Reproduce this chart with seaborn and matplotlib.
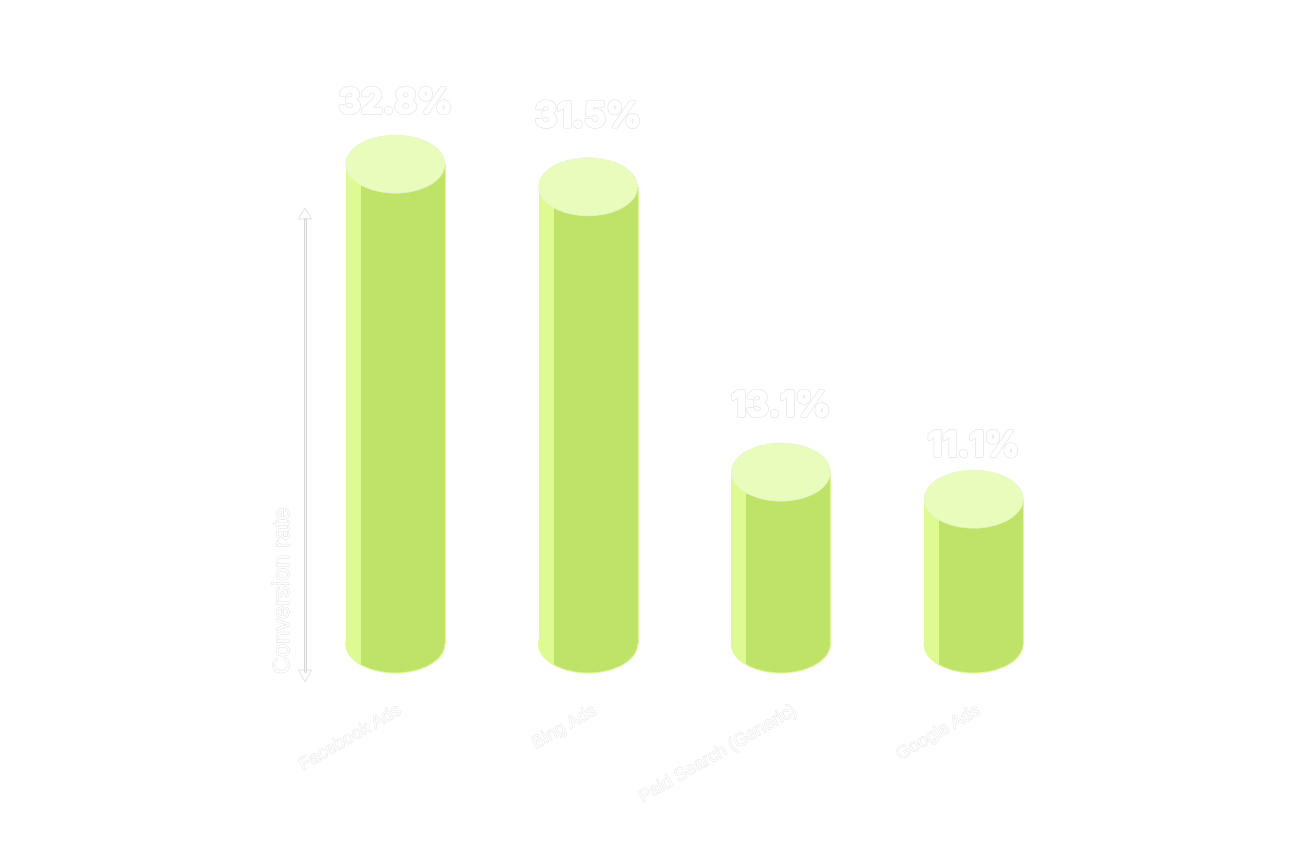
import matplotlib
matplotlib.use("Agg")
import matplotlib.pyplot as plt
import matplotlib.patheffects as pe
from matplotlib.patches import Ellipse, Rectangle
from matplotlib.transforms import ScaledTranslation
import seaborn as sns
import pandas as pd

channels = ["Facebook Ads", "Bing Ads", "Paid Search (Generic)", "Google Ads"]
rate_labels = ["32.8%", "31.5%", "13.1%", "11.1%"]
# Cylinder heights as drawn in the picture, in axis units
bar_levels = [32.8, 31.25, 11.75, 9.9]
# Distance from the top-ellipse centre to the label baseline, in pixels
label_gaps_px = [51, 60, 56, 43]
# Sideways nudge of each channel label, in pixels
tick_nudges_px = [0, 3, 10, 1]

BODY = "#BFE268"
STRIP = "#DDFB90"
TOP = "#E8FCBC"
W, H = 1308, 867
DPI = 100
PX_PER_UNIT = 14.63

sns.set_style("white")
plt.rcParams["font.family"] = ["Liberation Sans", "DejaVu Sans"]

fig = plt.figure(figsize=(W / DPI, H / DPI), dpi=DPI, facecolor="white")
ax = fig.add_axes([299 / W, (H - 644) / H, 771 / W, 544 / H])

df = pd.DataFrame({"channel": channels, "level": bar_levels})
sns.barplot(data=df, x="channel", y="level", color=BODY, saturation=1, width=0.514,
            linewidth=0, ax=ax, zorder=2)
ax.set_xlim(-0.5, 3.5)
ax.set_ylim(0, 544 / PX_PER_UNIT)
sns.despine(ax=ax, left=True, bottom=True)
ax.set_yticks([])
ax.set_xlabel("")
ax.patch.set_alpha(0)

ell_h = 58 / PX_PER_UNIT
halo = [pe.withStroke(linewidth=2.3, foreground="#dedede"),
        pe.withStroke(linewidth=1.6, foreground="white")]

for bar, label, gap in zip(list(ax.patches), rate_labels, label_gaps_px):
    x0, w, lev = bar.get_x(), bar.get_width(), bar.get_height()
    xc = x0 + w / 2
    strip_w = w * 15 / 99
    # rounded foot
    ax.add_patch(Ellipse((xc, 0), w, ell_h, fc=BODY, ec=STRIP, lw=0.7, zorder=1, clip_on=False))
    foot = Ellipse((xc, 0), w, ell_h, fc=STRIP, ec="none", zorder=3)
    ax.add_patch(foot)
    foot.set_clip_on(True)
    foot.set_clip_path(Rectangle((x0, -ell_h), strip_w, ell_h * 2, transform=ax.transData))
    # lit left side and thin right rim
    ax.add_patch(Rectangle((x0, 0), strip_w, lev, fc=STRIP, ec="none", zorder=3))
    ax.plot([x0 + w, x0 + w], [0, lev], color=STRIP, lw=0.8, zorder=3)
    # cap
    ax.add_patch(Ellipse((xc, lev), w, ell_h, fc=TOP, ec="#eaf2d6", lw=0.5, zorder=4, clip_on=False))
    ax.annotate(label, xy=(xc, lev), xytext=(0, gap * 72 / DPI), textcoords="offset points",
                ha="center", va="baseline", fontsize=25, family=["Inter", "DejaVu Sans"],
                fontweight="bold", color="white", path_effects=halo, zorder=5)

ax.set_xticks(range(len(channels)))
ax.set_xticklabels(channels, rotation=30, ha="right", rotation_mode="anchor",
                   fontsize=13, color="white",
                   path_effects=[pe.withStroke(linewidth=0.5, foreground="#dcdcdc")])
ax.tick_params(axis="x", length=0, pad=42)
for tick_label, nudge in zip(ax.get_xticklabels(), tick_nudges_px):
    tick_label.set_transform(tick_label.get_transform()
                             + ScaledTranslation(nudge / DPI, 0, fig.dpi_scale_trans))

ax.set_ylabel("Conversion rate", loc="bottom", fontsize=17, color="white",
              path_effects=[pe.withStroke(linewidth=0.6, foreground="#dcdcdc")])
ax.yaxis.set_label_coords((294 - 299) / 771, -30 / 544)

# axis arrow
def fig_xy(px, py):
    return (px / W, 1 - py / H)

fig.add_artist(plt.Line2D(*zip(fig_xy(305, 219), fig_xy(305, 671)), color="#cfcfcf", lw=1.9,
                          transform=fig.transFigure))
fig.add_artist(plt.Line2D(*zip(fig_xy(305, 219), fig_xy(305, 671)), color="white", lw=0.6,
                          transform=fig.transFigure))
for base, tip in [(219, 208), (670, 682)]:
    fig.add_artist(plt.Polygon([fig_xy(298.5, base), fig_xy(311.5, base), fig_xy(305, tip)], closed=True,
                               fc="white", ec="#e0e0e0", lw=0.6, transform=fig.transFigure))

fig.savefig("out.png", dpi=DPI, facecolor="white")
